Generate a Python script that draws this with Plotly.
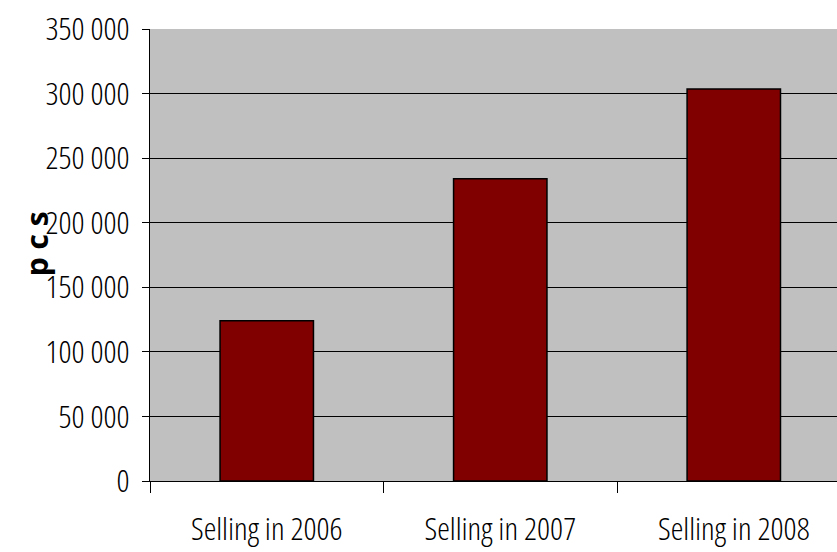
import plotly.graph_objects as go

categories = ["Selling in 2006", "Selling in 2007", "Selling in 2008"]
values = [124000, 234000, 303500]
tick_vals = [0, 50000, 100000, 150000, 200000, 250000, 300000, 350000]
tick_text = ["0", "50 000", "100 000", "150 000", "200 000", "250 000", "300 000", "350 000"]
y_title = "p c s"

FONT = "Open Sans, Liberation Sans, sans-serif"

fig = go.Figure(go.Bar(
    x=categories, y=values,
    marker=dict(color="#800000", line=dict(color="black", width=1.5)),
    width=0.4,
))

fig.add_annotation(
    text=y_title, textangle=-90, showarrow=False,
    xref="paper", yref="paper", x=-0.165, y=0.525, xanchor="center", yanchor="middle",
    font=dict(family=FONT, size=30, color="black", weight=700),
)

fig.update_layout(
    width=837, height=552,
    margin=dict(l=150, r=0, t=29, b=71),
    paper_bgcolor="white", plot_bgcolor="#c0c0c0",
    showlegend=False,
    font=dict(family=FONT, size=32, color="black"),
    xaxis=dict(
        range=[-0.5, 2.442], showgrid=False, showline=True, linecolor="black", linewidth=1,
        ticks="outside", ticklen=11, tickcolor="black", tickson="boundaries",
        tickfont=dict(family=FONT, size=32, color="black", weight=350),
        ticklabelstandoff=20, automargin=False,
    ),
    yaxis=dict(
        range=[0, 350000], tickvals=tick_vals, ticktext=tick_text,
        showgrid=True, gridcolor="black", gridwidth=1,
        showline=True, linecolor="black", linewidth=1,
        ticks="outside", ticklen=7, tickcolor="black",
        tickfont=dict(family=FONT, size=32, color="black", weight=350),
        ticklabelstandoff=6, automargin=False,
        zeroline=False,
    ),
)

post = """
var s=document.createElement('style');
s.innerHTML='.xtick text, .ytick text{font-stretch:75% !important;}';
document.head.appendChild(s);
"""
fig.write_html("out.html", post_script=post)
